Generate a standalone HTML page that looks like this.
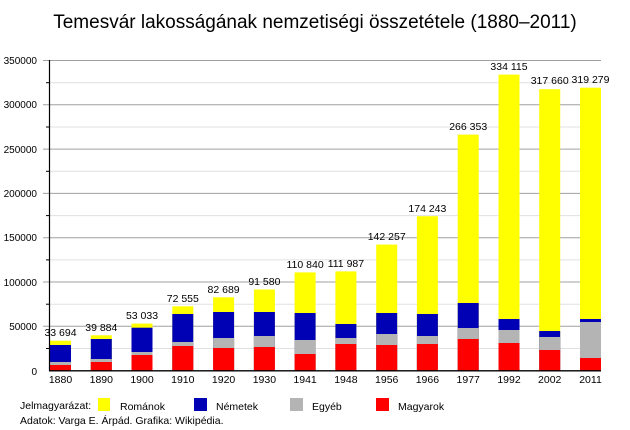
<!DOCTYPE html>
<html><head><meta charset="utf-8"><style>
html,body{margin:0;padding:0;background:#fff}
svg{display:block;font-family:"Liberation Sans",sans-serif}
</style></head><body>
<svg width="630" height="430" xmlns="http://www.w3.org/2000/svg">
<text x="315" y="28" font-size="19" text-anchor="middle" fill="#000">Temesvár lakosságának nemzetiségi összetétele (1880–2011)</text>
<g stroke="#e0e0e0" stroke-width="1">
<line x1="50" x2="601" y1="82.7" y2="82.7"/><line x1="50" x2="601" y1="127" y2="127"/><line x1="50" x2="601" y1="171.3" y2="171.3"/><line x1="50" x2="601" y1="215.6" y2="215.6"/><line x1="50" x2="601" y1="259.9" y2="259.9"/><line x1="50" x2="601" y1="304.2" y2="304.2"/><line x1="50" x2="601" y1="348.5" y2="348.5"/>
</g>
<g stroke="#a0a0a0" stroke-width="1">
<line x1="43" x2="601" y1="60.5" y2="60.5"/><line x1="43" x2="601" y1="104.8" y2="104.8"/><line x1="43" x2="601" y1="149.1" y2="149.1"/><line x1="43" x2="601" y1="193.4" y2="193.4"/><line x1="43" x2="601" y1="237.7" y2="237.7"/><line x1="43" x2="601" y1="282" y2="282"/><line x1="43" x2="601" y1="326.3" y2="326.3"/>
</g>
<g stroke="#000"><line x1="46" x2="50" y1="82.7" y2="82.7"/><line x1="46" x2="50" y1="127" y2="127"/><line x1="46" x2="50" y1="171.3" y2="171.3"/><line x1="46" x2="50" y1="215.6" y2="215.6"/><line x1="46" x2="50" y1="259.9" y2="259.9"/><line x1="46" x2="50" y1="304.2" y2="304.2"/><line x1="46" x2="50" y1="348.5" y2="348.5"/></g>
<g font-size="10" text-anchor="end" fill="#000">
<text x="37" y="64">350000</text><text x="37" y="108">300000</text><text x="37" y="153">250000</text><text x="37" y="197">200000</text><text x="37" y="241">150000</text><text x="37" y="286">100000</text><text x="37" y="330">50000</text><text x="37" y="375">0</text>
</g>
<g id="bars">
<!-- yellow -->
<g fill="#ffff00">
<rect x="50" y="340.7" width="21" height="30"/><rect x="90.8" y="335.3" width="21" height="35.3"/><rect x="131.5" y="323.6" width="21" height="47"/><rect x="172.3" y="306.3" width="21" height="64.3"/><rect x="213.1" y="297.3" width="21" height="73.3"/><rect x="253.9" y="289.5" width="21" height="81.1"/><rect x="294.6" y="272.4" width="21" height="98.2"/><rect x="335.4" y="271.4" width="21" height="99.2"/><rect x="376.2" y="244.6" width="21" height="126"/><rect x="416.9" y="216.2" width="21" height="154.4"/><rect x="457.7" y="134.6" width="21" height="236"/><rect x="498.5" y="74.6" width="21" height="296"/><rect x="539.2" y="89.2" width="21" height="281.4"/><rect x="580" y="87.7" width="21" height="282.9"/>
</g>
<g fill="#0000b4">
<rect x="50" y="345" width="21" height="25.6"/><rect x="90.8" y="339" width="21" height="31.6"/><rect x="131.5" y="327.7" width="21" height="42.9"/><rect x="172.3" y="314" width="21" height="56.6"/><rect x="213.1" y="312" width="21" height="58.6"/><rect x="253.9" y="312" width="21" height="58.6"/><rect x="294.6" y="313" width="21" height="57.6"/><rect x="335.4" y="324" width="21" height="46.6"/><rect x="376.2" y="313" width="21" height="57.6"/><rect x="416.9" y="314" width="21" height="56.6"/><rect x="457.7" y="303" width="21" height="67.6"/><rect x="498.5" y="319" width="21" height="51.6"/><rect x="539.2" y="331" width="21" height="39.6"/><rect x="580" y="319" width="21" height="51.6"/>
</g>
<g fill="#b4b4b4">
<rect x="50" y="362" width="21" height="8.6"/><rect x="90.8" y="359" width="21" height="11.6"/><rect x="131.5" y="352" width="21" height="18.6"/><rect x="172.3" y="342" width="21" height="28.6"/><rect x="213.1" y="338" width="21" height="32.6"/><rect x="253.9" y="336" width="21" height="34.6"/><rect x="294.6" y="340" width="21" height="30.6"/><rect x="335.4" y="338" width="21" height="32.6"/><rect x="376.2" y="334" width="21" height="36.6"/><rect x="416.9" y="336" width="21" height="34.6"/><rect x="457.7" y="328" width="21" height="42.6"/><rect x="498.5" y="330" width="21" height="40.6"/><rect x="539.2" y="337" width="21" height="33.6"/><rect x="580" y="322" width="21" height="48.6"/>
</g>
<g fill="#ff0000">
<rect x="50" y="365" width="21" height="5.6"/><rect x="90.8" y="362" width="21" height="8.6"/><rect x="131.5" y="355" width="21" height="15.6"/><rect x="172.3" y="346" width="21" height="24.6"/><rect x="213.1" y="348" width="21" height="22.6"/><rect x="253.9" y="347" width="21" height="23.6"/><rect x="294.6" y="354" width="21" height="16.6"/><rect x="335.4" y="344" width="21" height="26.6"/><rect x="376.2" y="345" width="21" height="25.6"/><rect x="416.9" y="344" width="21" height="26.6"/><rect x="457.7" y="339" width="21" height="31.6"/><rect x="498.5" y="343" width="21" height="27.6"/><rect x="539.2" y="350" width="21" height="20.6"/><rect x="580" y="358" width="21" height="12.6"/>
</g>
</g>
<line x1="49.5" x2="49.5" y1="60" y2="371" stroke="#000" stroke-width="1.2"/>
<line x1="49" x2="601" y1="370.8" y2="370.8" stroke="#000" stroke-width="1.4"/>
<g font-size="10.5" text-anchor="middle" fill="#000">
<text x="60.5" y="336">33 694</text><text x="101.3" y="331">39 884</text><text x="142" y="319">53 033</text><text x="182.8" y="302">72 555</text><text x="223.6" y="293">82 689</text><text x="264.4" y="285">91 580</text><text x="305.1" y="268">110 840</text><text x="345.9" y="267">111 987</text><text x="386.7" y="240">142 257</text><text x="427.4" y="212">174 243</text><text x="468.2" y="130">266 353</text><text x="509" y="70">334 115</text><text x="549.7" y="84">317 660</text><text x="590.5" y="83">319 279</text>
</g>
<g font-size="10.5" text-anchor="middle" fill="#000">
<text x="60.5" y="383">1880</text><text x="101.3" y="383">1890</text><text x="142" y="383">1900</text><text x="182.8" y="383">1910</text><text x="223.6" y="383">1920</text><text x="264.4" y="383">1930</text><text x="305.1" y="383">1941</text><text x="345.9" y="383">1948</text><text x="386.7" y="383">1956</text><text x="427.4" y="383">1966</text><text x="468.2" y="383">1977</text><text x="509" y="383">1992</text><text x="549.7" y="383">2002</text><text x="590.5" y="383">2011</text>
</g>
<g font-size="10.5" fill="#000">
<text x="20" y="409">Jelmagyarázat:</text>
<rect x="98" y="398" width="12" height="13" fill="#ffff00"/><text x="120" y="410">Románok</text>
<rect x="194" y="398" width="13" height="13" fill="#0000b4"/><text x="216" y="410">Németek</text>
<rect x="290" y="398" width="13" height="13" fill="#b4b4b4"/><text x="312" y="410">Egyéb</text>
<rect x="376" y="398" width="13" height="13" fill="#ff0000"/><text x="398" y="410">Magyarok</text>
<text x="20" y="424">Adatok: Varga E. Árpád. Grafika: Wikipédia.</text>
</g>
</svg>
</body></html>
